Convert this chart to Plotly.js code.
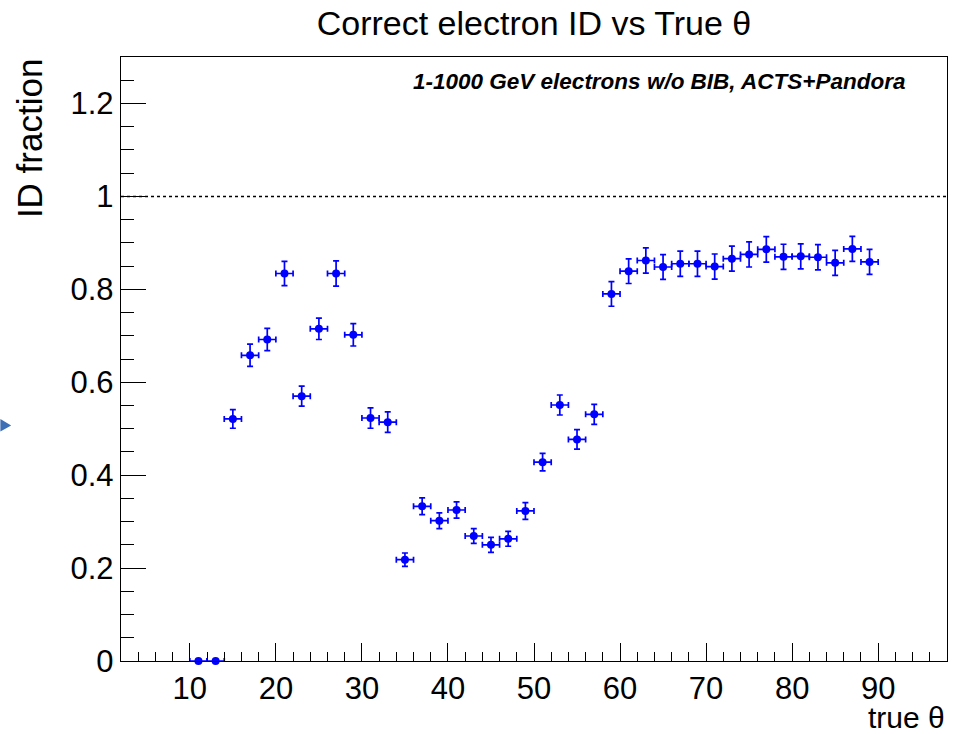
<!DOCTYPE html>
<html>
<head>
<meta charset="utf-8">
<script src="https://cdn.plot.ly/plotly-3.0.1.min.js"></script>
<style>html,body{margin:0;padding:0;background:#fff;}#chart{width:956px;height:734px;}</style>
</head>
<body>
<div id="chart"></div>
<script>
// Bin centres of true theta (degrees), bin width 2
const thetaBins = [11,13,15,17,19,21,23,25,27,29,31,33,35,37,39,41,43,45,47,49,51,53,55,57,59,61,63,65,67,69,71,73,75,77,79,81,83,85,87,89];
// Correct electron ID fraction per bin
const idFraction = [0,0,0.521,0.658,0.692,0.834,0.570,0.715,0.834,0.702,0.523,0.514,0.218,0.333,0.302,0.325,0.269,0.250,0.263,0.323,0.428,0.551,0.477,0.531,0.790,0.839,0.862,0.848,0.855,0.855,0.849,0.866,0.875,0.886,0.870,0.871,0.869,0.857,0.887,0.859];
// Statistical uncertainty per bin
const idError = [0,0,0.020,0.024,0.024,0.026,0.0215,0.023,0.027,0.024,0.022,0.022,0.0145,0.018,0.017,0.0175,0.016,0.016,0.016,0.018,0.019,0.0215,0.021,0.0215,0.0265,0.0265,0.027,0.0265,0.027,0.027,0.027,0.027,0.027,0.0275,0.027,0.027,0.027,0.027,0.027,0.027];
const binHalfWidth = [];
for (let i = 0; i < thetaBins.length; i++) binHalfWidth.push(1);

const FONT = 'Liberation Sans, Arial, Helvetica, sans-serif';
const BLUE = '#0000ff';

const trace = {
  type: 'scatter',
  mode: 'markers',
  x: thetaBins,
  y: idFraction,
  cliponaxis: false,
  marker: {color: BLUE, size: 8, symbol: 'circle'},
  error_y: {type: 'data', array: idError, visible: true, color: BLUE, thickness: 1.7, width: 3},
  error_x: {type: 'data', array: binHalfWidth, visible: true, color: BLUE, thickness: 1.7, width: 3},
  showlegend: false,
  hoverinfo: 'x+y'
};

const layout = {
  width: 956, height: 734,
  margin: {l: 121, r: 9, t: 57, b: 73},
  paper_bgcolor: '#ffffff', plot_bgcolor: '#ffffff',
  font: {family: FONT, color: '#000'},
  title: {text: 'Correct electron ID vs True θ', font: {family: FONT, size: 34, color: '#000'},
          xref: 'paper', x: 0.5, xanchor: 'center', yref: 'container', y: 0.968, yanchor: 'middle'},
  xaxis: {
    range: [2, 98], tick0: 0, dtick: 10, showgrid: false, zeroline: false,
    ticks: 'inside', ticklen: 18, tickwidth: 1, tickcolor: '#000',
    showline: true, linecolor: '#000', linewidth: 1.2, mirror: true,
    tickfont: {family: FONT, size: 31, color: '#000'},
    minor: {ticks: 'inside', ticklen: 9, dtick: 2, tick0: 0, tickcolor: '#000', tickwidth: 1, showgrid: false},
    title: {text: ''}
  },
  yaxis: {
    range: [0, 1.3], tick0: 0, dtick: 0.2, showgrid: false, zeroline: false,
    ticks: 'inside', ticklen: 25, tickwidth: 1, tickcolor: '#000',
    showline: true, linecolor: '#000', linewidth: 1.2, mirror: true,
    tickfont: {family: FONT, size: 31, color: '#000'},
    minor: {ticks: 'inside', ticklen: 12.5, dtick: 0.05, tick0: 0, tickcolor: '#000', tickwidth: 1, showgrid: false},
    title: {text: ''}
  },
  shapes: [
    {type: 'line', xref: 'paper', x0: 0, x1: 1, yref: 'y', y0: 1, y1: 1,
     line: {color: '#000', width: 1.5, dash: 'dot'}},
    {type: 'path', xref: 'paper', yref: 'paper',
     path: 'M -0.146 0.4008 L -0.133 0.390 L -0.146 0.3798 Z',
     fillcolor: '#3d6fb6', line: {width: 0}}
  ],
  annotations: [
    {text: '<b><i>1-1000 GeV electrons w/o BIB, ACTS+Pandora</i></b>', xref: 'paper', yref: 'paper',
     x: 0.951, xanchor: 'right', y: 0.96, yanchor: 'middle', showarrow: false,
     font: {family: FONT, size: 22.5, color: '#000'}},
    {text: 'ID fraction', xref: 'paper', yref: 'paper', textangle: -90,
     x: -0.111, xanchor: 'center', y: 1.002, yanchor: 'top', showarrow: false,
     font: {family: FONT, size: 35, color: '#000'}},
    {text: 'true θ', xref: 'paper', yref: 'paper',
     x: 1.0, xanchor: 'right', y: -0.0625, yanchor: 'top', showarrow: false,
     font: {family: FONT, size: 30, color: '#000'}}
  ]
};

Plotly.newPlot('chart', [trace], layout, {displayModeBar: false, staticPlot: true});
</script>
</body>
</html>
